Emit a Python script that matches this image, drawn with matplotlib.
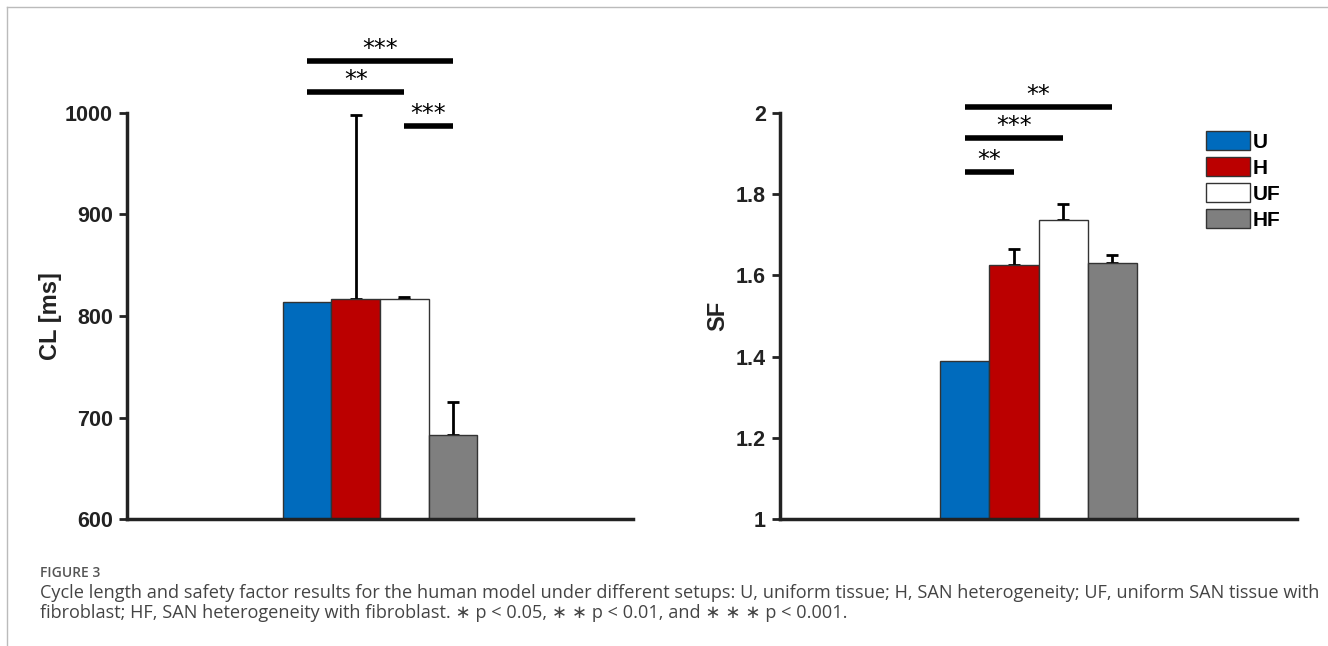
import numpy as np
import matplotlib.pyplot as plt
from matplotlib.patches import Patch
from matplotlib.lines import Line2D

groups = ['U', 'H', 'UF', 'HF']
colors = ['#006bbd', '#bb0000', '#ffffff', '#7f7f7f']

cl_vals = [814, 817, 817, 683]
cl_err = [0, 181, 2, 32]
sf_vals = [1.39, 1.625, 1.737, 1.63]
sf_err = [0, 0.04, 0.038, 0.02]

# (bar i, bar j, height, label)
cl_sig = [(0, 3, 1051, '***'), (0, 2, 1021, '**'), (2, 3, 987, '***')]
sf_sig = [(0, 3, 2.015, '**'), (0, 2, 1.938, '***'), (0, 1, 1.855, '**')]

plt.rcParams['font.family'] = ['Liberation Sans', 'DejaVu Sans']

W, H = 1328, 646
fig = plt.figure(figsize=(W / 100, H / 100), dpi=100)

def px_axes(x0, x1, ytop, ybot):
    return fig.add_axes([x0 / W, 1 - ybot / H, (x1 - x0) / W, (ybot - ytop) / H])

def draw(ax, vals, errs, ylim, ticks, ticklabels, ylabel, sig, w, pad):
    xs = 1 + (np.arange(4) - 1.5) * w
    ax.bar(xs, np.array(vals) - ylim[0], w, bottom=ylim[0], color=colors,
           edgecolor='#333333', linewidth=1, zorder=2)
    for x, v, e in zip(xs, vals, errs):
        if e > 0:
            ax.errorbar(x, v, yerr=[[0], [e]], fmt='none', ecolor='black',
                        elinewidth=2, capsize=4, capthick=2, zorder=1)
    ax.set_xlim(0, 2)
    ax.set_ylim(*ylim)
    ax.set_xticks([])
    ax.set_yticks(ticks)
    ax.set_yticklabels(ticklabels, fontsize=15.5, fontweight='bold', color='#222222')
    ax.set_ylabel(ylabel, fontsize=17, fontweight='bold', color='#222222', labelpad=pad)
    for s in ['top', 'right']:
        ax.spines[s].set_visible(False)
    for s in ['left', 'bottom']:
        ax.spines[s].set_linewidth(2.5)
        ax.spines[s].set_color('#222222')
    ax.tick_params(axis='y', direction='out', length=6, width=2, color='#222222', pad=4)
    for i, j, h, lab in sig:
        ax.plot([xs[i], xs[j]], [h, h], color='black', lw=4, clip_on=False,
                solid_capstyle='butt')
        ax.text((xs[i] + xs[j]) / 2, h, lab, ha='center', va='bottom',
                fontsize=17, color='black', family='DejaVu Sans')
    return xs

ax1 = px_axes(127, 633, 113, 519)
draw(ax1, cl_vals, cl_err, (600, 1000), [600, 700, 800, 900, 1000],
     ['600', '700', '800', '900', '1000'], 'CL [ms]', cl_sig, 0.192, 2)

ax2 = px_axes(780, 1297, 113, 519)
draw(ax2, sf_vals, sf_err, (1, 2), [1, 1.2, 1.4, 1.6, 1.8, 2],
     ['1', '1.2', '1.4', '1.6', '1.8', '2'], 'SF', sf_sig, 0.19, 5)

handles = [Patch(facecolor=c, edgecolor='#333333', linewidth=1) for c in colors]
leg = ax2.legend(handles, groups, loc='upper left', bbox_to_anchor=(0.824, 0.956),
                 frameon=False, handlelength=2.1, handleheight=1.05,
                 handletextpad=0.15, labelspacing=0.25, borderaxespad=0, borderpad=0,
                 prop={'weight': 'bold', 'size': 15})

# frame of the figure panel
fig.add_artist(Line2D([7 / W, 7 / W], [0, 1 - 7 / H], color='#bbbbbb', lw=1))
fig.add_artist(Line2D([7 / W, 1], [1 - 7 / H, 1 - 7 / H], color='#bbbbbb', lw=1))

fig.text(40 / W, 1 - 573 / H, 'FIGURE 3', fontsize=10, color='#555555',
         fontweight='semibold', family=['Open Sans', 'DejaVu Sans'], va='center')
fig.text(40 / W, 1 - 593 / H,
         'Cycle length and safety factor results for the human model under different setups: '
         'U, uniform tissue; H, SAN heterogeneity; UF, uniform SAN tissue with',
         fontsize=13.1, color='#444444', family=['Open Sans', 'DejaVu Sans'], va='center')
fig.text(40 / W, 1 - 613 / H,
         'fibroblast; HF, SAN heterogeneity with fibroblast. \u2217 p < 0.05, \u2217 \u2217 p < 0.01, '
         'and \u2217 \u2217 \u2217 p < 0.001.',
         fontsize=13.1, color='#444444', family=['Open Sans', 'DejaVu Sans'], va='center')

fig.savefig('out.png', dpi=100)
